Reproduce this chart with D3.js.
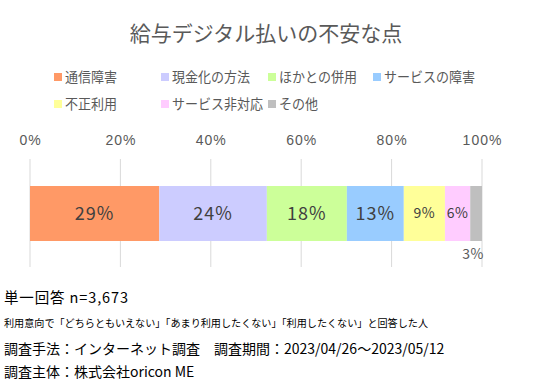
<!DOCTYPE html>
<html><head><meta charset="utf-8">
<script src="https://cdn.jsdelivr.net/npm/d3@7"></script>
<style>body{margin:0;background:#fff;} svg{display:block;font-family:"Noto Sans CJK JP","Noto Sans",sans-serif;}</style>
</head><body>
<script>
const categories = ["通信障害","現金化の方法","ほかとの併用","サービスの障害","不正利用","サービス非対応","その他"];
const values = [28.6, 23.8, 17.7, 12.6, 9.1, 5.6, 2.6];
const colors = ["#FF9966","#CCCCFF","#CCFF99","#99CCFF","#FFFF99","#FFCCFF","#BFBFBF"];
const tickValues = [0,20,40,60,80,100];
const title = "給与デジタル払いの不安な点";
const notes = ["単一回答 n=3,673",
  "利用意向で「どちらともいえない」「あまり利用したくない」「利用したくない」と回答した人",
  "調査手法：インターネット調査　調査期間：2023/04/26～2023/05/12",
  "調査主体：株式会社oricon ME"];

const W=535,H=383;
const svg=d3.select("body").append("svg").attr("width",W).attr("height",H);
svg.append("rect").attr("width",W).attr("height",H).attr("fill","#fff");

svg.append("text").attr("x",266).attr("y",41).attr("text-anchor","middle")
  .attr("font-size",21).attr("fill","#595959").text(title);

// legend
const legPos=[[54,77],[161,77],[268,77],[373,77],[54,104],[161,104],[268,104]];
categories.forEach((c,i)=>{
  const g=svg.append("g").attr("transform",`translate(${legPos[i][0]},${legPos[i][1]})`);
  g.append("rect").attr("x",0).attr("y",-4).attr("width",8).attr("height",8).attr("fill",colors[i]);
  const t=g.append("text").attr("x",11).attr("y",0).attr("dy","0.35em").attr("font-size",14).attr("fill","#595959").text(c);
  const len=t.node().getComputedTextLength();
  const maxLen=c.length*13;
  if(len>maxLen) t.attr("textLength",maxLen).attr("lengthAdjust","spacingAndGlyphs");
});

const x=d3.scaleLinear().domain([0,100]).range([30,482]);
// grid
svg.append("g").selectAll("line").data(tickValues).join("line")
  .attr("x1",d=>x(d)).attr("x2",d=>x(d)).attr("y1",159).attr("y2",267)
  .attr("stroke","#D9D9D9").attr("stroke-width",1);
const ax=svg.append("g").attr("transform","translate(0,145)")
  .call(d3.axisTop(x).tickValues(tickValues).tickFormat(d=>d+"%").tickSize(0).tickPadding(0));
ax.select(".domain").remove();
ax.selectAll("text").attr("font-size",14).attr("letter-spacing",1).attr("fill","#595959").attr("font-family","inherit");

let cum=0;
const segs=values.map((v,i)=>{const s={v,i,x0:cum,x1:cum+v};cum+=v;return s;});
const y0=186,bh=55;
svg.append("g").selectAll("rect").data(segs).join("rect")
  .attr("x",d=>x(d.x0)).attr("width",d=>x(d.x1)-x(d.x0))
  .attr("y",y0).attr("height",bh).attr("fill",d=>colors[d.i]);
svg.append("g").selectAll("text").data(segs).join("text")
  .attr("x",d=>d.i===6?x(d.x0)+ (x(d.x1)-x(d.x0))/2 - 3 :(x(d.x0)+x(d.x1))/2)
  .attr("y",d=>d.i===6?y0+bh+13:y0+bh/2)
  .attr("dy","0.35em").attr("text-anchor","middle")
  .attr("font-size",d=>d.i>=4?14:18)
  .attr("letter-spacing",d=>d.i>=4?0.5:1)
  .attr("fill",d=>d.i===6?"#595959":"#404040")
  .text(d=>Math.round(d.v)+"%");

// notes
const noteY=[298,323,349,372], noteF=[14.5,10.5,14,14];
notes.forEach((t,i)=>{
  const el=svg.append("text").attr("x",4).attr("y",noteY[i]).attr("dy","0.35em")
    .attr("font-size",noteF[i]).attr("fill","#000").text(t);
  if(i===1) el.attr("textLength",424).attr("lengthAdjust","spacingAndGlyphs");
  if(i===0) el.attr("textLength",124).attr("lengthAdjust","spacing");
});
</script>
</body></html>
